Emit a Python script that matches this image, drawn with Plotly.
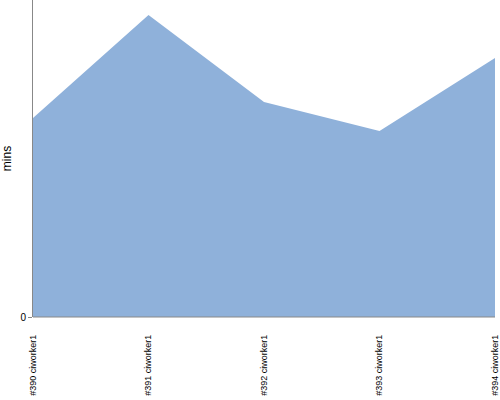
import plotly.graph_objs as go

builds = ['#390 ciworker1', '#391 ciworker1', '#392 ciworker1', '#393 ciworker1', '#394 ciworker1']
durations = [6.28, 9.53, 6.78, 5.87, 8.17]

fig = go.Figure()
fig.add_trace(go.Scatter(
    x=builds,
    y=durations,
    mode='lines',
    fill='tozeroy',
    fillcolor='rgb(143,177,218)',
    line=dict(width=0, color='rgb(143,177,218)'),
    hoverinfo='skip',
    showlegend=False
))

fig.update_layout(
    width=500, height=400,
    margin=dict(l=33, r=5, t=0, b=83),
    paper_bgcolor='white',
    plot_bgcolor='white',
    font=dict(family='Liberation Sans', color='black'),
    xaxis=dict(
        showgrid=False,
        zeroline=False,
        showline=False,
        tickangle=-90,
        tickfont=dict(size=9),
        range=[0, 4],
        ticks='',
        ticklabelstandoff=15,
        automargin=False,
    ),
    yaxis=dict(
        title=dict(text='mins', font=dict(size=12), standoff=8),
        showgrid=False,
        zeroline=False,
        showline=True,
        linecolor='#888',
        linewidth=1,
        range=[0, 10],
        tickvals=[0],
        ticks='outside',
        ticklen=4,
        tickcolor='#888',
        tickfont=dict(size=10),
        automargin=False,
    ),
)
fig.add_shape(type='line', xref='paper', yref='paper', x0=0, x1=1, y0=0, y1=0,
              line=dict(color='#888', width=1))

# drop the browser's default 8px body margin so the figure sits at the page corner
fig.write_html("out.html", config={'displayModeBar': False},
               post_script="document.body.style.margin='0';")
